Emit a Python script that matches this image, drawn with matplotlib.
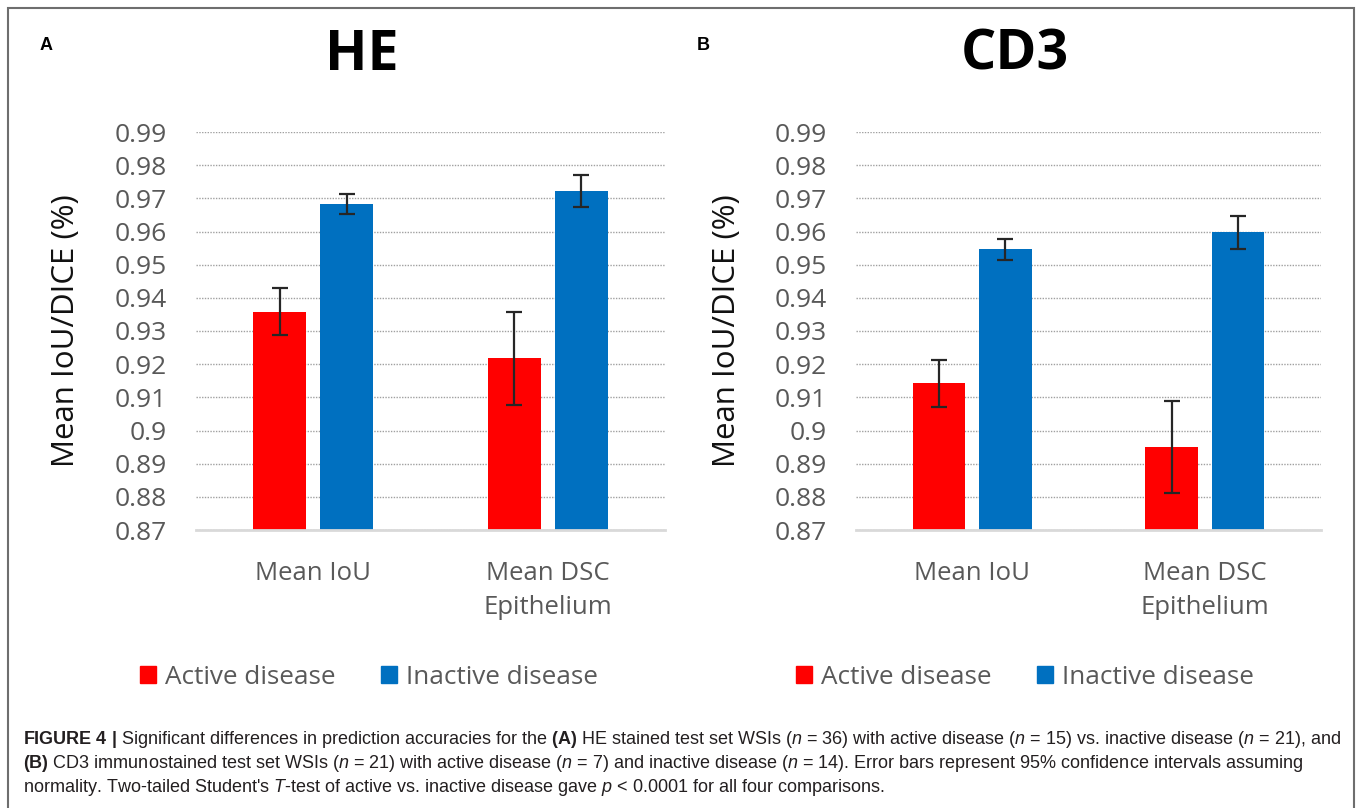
import matplotlib
matplotlib.use("Agg")
import matplotlib.pyplot as plt
from matplotlib.patches import Rectangle, Patch
import numpy as np

# ---------------- data ----------------
categories = ["Mean IoU", "Mean DSC\nEpithelium"]
series_names = ["Active disease", "Inactive disease"]

he_active = [0.9358, 0.9218]
he_active_err = [0.0071, 0.0140]
he_inactive = [0.9683, 0.9723]
he_inactive_err = [0.0030, 0.0048]

cd3_active = [0.9142, 0.8950]
cd3_active_err = [0.0071, 0.0139]
cd3_inactive = [0.9546, 0.9597]
cd3_inactive_err = [0.0031, 0.0049]

yticks = [0.87, 0.88, 0.89, 0.90, 0.91, 0.92, 0.93, 0.94, 0.95, 0.96, 0.97, 0.98, 0.99]
ytick_labels = ["0.87", "0.88", "0.89", "0.9", "0.91", "0.92", "0.93", "0.94",
                "0.95", "0.96", "0.97", "0.98", "0.99"]

panel_titles = ["HE", "CD3"]
panel_letters = ["A", "B"]
ylabel = "Mean IoU/DICE (%)"

caption_lines = [
    r"$\mathbf{FIGURE\ 4\ |}$ Significant differences in prediction accuracies for the $\mathbf{(A)}$ HE stained test set WSIs ($n$ = 36) with active disease ($n$ = 15) vs. inactive disease ($n$ = 21), and",
    r"$\mathbf{(B)}$ CD3 immunostained test set WSIs ($n$ = 21) with active disease ($n$ = 7) and inactive disease ($n$ = 14). Error bars represent 95% confidence intervals assuming",
    r"normality. Two-tailed Student's $T$-test of active vs. inactive disease gave $p$ < 0.0001 for all four comparisons.",
]

# ---------------- style ----------------
RED = "#ff0000"
BLUE = "#0070c0"
GRAY_TXT = "#595959"
W, H = 1358, 808
DPI = 100

plt.rcParams["mathtext.fontset"] = "custom"
plt.rcParams["mathtext.rm"] = "Liberation Sans"
plt.rcParams["mathtext.it"] = "Liberation Sans:italic"
plt.rcParams["mathtext.bf"] = "Liberation Sans:bold"
plt.rcParams["font.family"] = ["Open Sans", "DejaVu Sans"]

fig = plt.figure(figsize=(W / DPI, H / DPI), dpi=DPI)


def fx(px):
    return px / W


def fy(py):
    return 1 - py / H


panels = [
    dict(active=he_active, active_err=he_active_err, inactive=he_inactive,
         inactive_err=he_inactive_err, left=196, right=665, title_x=362,
         letter_x=46, legend_x=369),
    dict(active=cd3_active, active_err=cd3_active_err, inactive=cd3_inactive,
         inactive_err=cd3_inactive_err, left=856, right=1321, title_x=1015,
         letter_x=703, legend_x=1025),
]

top_px, bot_px = 132, 530
x = np.arange(len(categories))
off = 0.143
bw = 0.226

for i, p in enumerate(panels):
    ax = fig.add_axes([fx(p["left"]), fy(bot_px), fx(p["right"] - p["left"]),
                       (bot_px - top_px) / H])
    ax.bar(x - off, p["active"], width=bw, color=RED, zorder=3,
           label=series_names[0])
    ax.bar(x + off, p["inactive"], width=bw, color=BLUE, zorder=3,
           label=series_names[1])
    ax.errorbar(x - off, p["active"], yerr=p["active_err"], fmt="none",
                ecolor="#262626", elinewidth=1.6, capsize=5.5, capthick=1.6, zorder=4)
    ax.errorbar(x + off, p["inactive"], yerr=p["inactive_err"], fmt="none",
                ecolor="#262626", elinewidth=1.6, capsize=5.5, capthick=1.6, zorder=4)
    ax.set_ylim(0.87, 0.99)
    ax.set_xlim(-0.5, 1.5)
    ax.set_yticks(yticks)
    ax.set_yticklabels(ytick_labels)
    ax.set_xticks(x)
    ax.set_xticklabels(categories, linespacing=1.5)
    ax.tick_params(axis="y", length=0, pad=21, labelsize=19, labelcolor=GRAY_TXT)
    ax.tick_params(axis="x", length=0, pad=22, labelsize=18.5, labelcolor=GRAY_TXT)
    ax.yaxis.grid(True, linestyle=(0, (1, 1)), color="#a0a0a0", linewidth=1.0, zorder=0)
    ax.set_axisbelow(True)
    for s in ["top", "right", "left"]:
        ax.spines[s].set_visible(False)
    ax.spines["bottom"].set_color("#d9d9d9")
    ax.spines["bottom"].set_linewidth(2.0)
    ax.spines["bottom"].set_zorder(5)
    ax.set_ylabel(ylabel, fontsize=22.5, color="#111111")
    ax.yaxis.set_label_coords(-0.245, 0.5)

    fig.text(fx(p["title_x"]), fy(55), panel_titles[i], fontsize=40,
             fontweight="bold", ha="center", va="center", color="black")
    fig.text(fx(p["letter_x"]), fy(45), panel_letters[i], fontsize=13,
             fontweight="bold", ha="center", va="center", color="black",
             family="Liberation Sans")

    fig.legend(handles=[Patch(color=RED), Patch(color=BLUE)], labels=series_names,
               loc="center", bbox_to_anchor=(fx(p["legend_x"]), fy(677)),
               ncol=2, frameon=False, fontsize=18.8, labelcolor=GRAY_TXT,
               handlelength=0.62, handleheight=0.62, handletextpad=0.35,
               columnspacing=1.75)

# frame
fig.add_artist(Rectangle((fx(8), fy(830)), fx(1354 - 8), (830 - 8) / H,
                         transform=fig.transFigure, fill=False,
                         edgecolor="#6e6e6e", linewidth=1.5, clip_on=False))

# caption (fit first line width)
cap_size = 12.0
t = fig.text(fx(23), fy(740), caption_lines[0], fontsize=cap_size,
             family="Liberation Sans", color="#231f20", va="center", ha="left")
fig.canvas.draw()
wpx = t.get_window_extent().width
cap_size = cap_size * (1342 - 23) / wpx
t.set_fontsize(cap_size)
for k, yy in zip([1, 2], [764, 788]):
    fig.text(fx(23), fy(yy), caption_lines[k], fontsize=cap_size,
             family="Liberation Sans", color="#231f20", va="center", ha="left")

fig.savefig("out.png", dpi=DPI)
